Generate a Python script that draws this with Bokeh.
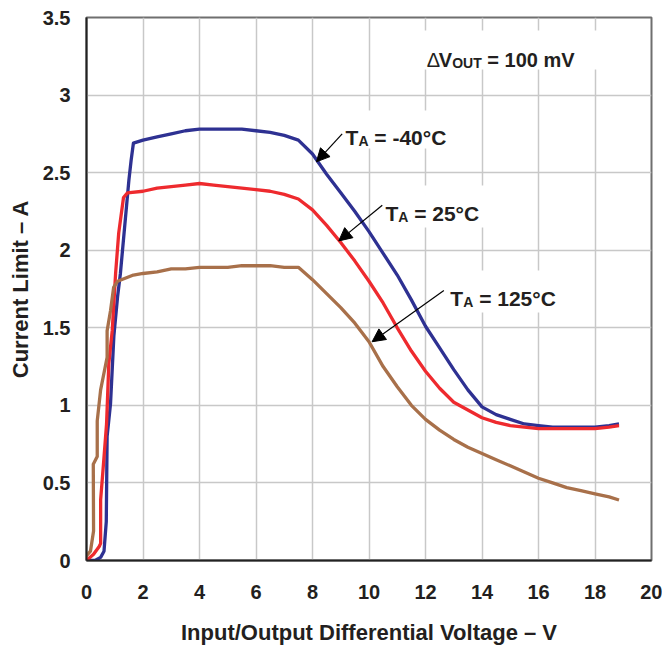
from bokeh.plotting import figure
from bokeh.models import Arrow, NormalHead
from bokeh.core.properties import value
from bokeh.embed import file_html
from bokeh.resources import INLINE

# ---------------- data ----------------
x_ticks = [0, 2, 4, 6, 8, 10, 12, 14, 16, 18, 20]
x_tick_labels = ["0", "2", "4", "6", "8", "10", "12", "14", "16", "18", "20"]
y_ticks = [0, 0.5, 1, 1.5, 2, 2.5, 3, 3.5]
y_tick_labels = ["0", "0.5", "1", "1.5", "2", "2.5", "3", "3.5"]

x_title = "Input/Output Differential Voltage \u2013 V"
y_title = "Current Limit \u2013 A"

vdiff_m40 = [0.0, 0.3, 0.5, 0.62, 0.70, 0.73, 0.85, 0.97, 1.10, 1.20, 1.38, 1.50, 1.58, 1.66,
             2.0, 2.5, 3.0, 3.5, 4.0, 4.5, 5.0, 5.5, 6.0, 6.5, 7.0, 7.5, 8.0, 8.5, 9.0, 9.5,
             10.0, 10.5, 11.0, 11.5, 12.0, 12.5, 13.0, 13.5, 14.0, 14.5, 15.0, 15.5, 16.0,
             16.5, 17.0, 17.5, 18.0, 18.5, 18.85]
ilim_m40 = [0.00, 0.00, 0.02, 0.06, 0.25, 0.80, 1.01, 1.45, 1.70, 1.85, 2.21, 2.45, 2.58, 2.69,
            2.71, 2.73, 2.75, 2.77, 2.78, 2.78, 2.78, 2.78, 2.77, 2.76, 2.74, 2.71, 2.62, 2.49,
            2.37, 2.25, 2.12, 1.98, 1.84, 1.68, 1.51, 1.37, 1.23, 1.10, 0.99, 0.94, 0.91, 0.88,
            0.87, 0.86, 0.86, 0.86, 0.86, 0.87, 0.88]

vdiff_25 = [0.0, 0.25, 0.45, 0.50, 0.50, 0.60, 0.71, 0.79, 0.91, 1.03, 1.14, 1.31, 1.45,
            2.0, 2.5, 3.0, 3.5, 4.0, 4.5, 5.0, 5.5, 6.0, 6.5, 7.0, 7.5, 8.0, 8.5, 9.0, 9.5,
            10.0, 10.5, 11.0, 11.5, 12.0, 12.5, 13.0, 13.5, 14.0, 14.5, 15.0, 15.5, 16.0,
            16.5, 17.0, 17.5, 18.0, 18.5, 18.85]
ilim_25 = [0.00, 0.04, 0.09, 0.11, 0.39, 0.62, 0.88, 1.27, 1.48, 1.85, 2.11, 2.34, 2.37,
           2.38, 2.40, 2.41, 2.42, 2.43, 2.42, 2.41, 2.40, 2.39, 2.38, 2.36, 2.33, 2.26, 2.16,
           2.05, 1.93, 1.80, 1.66, 1.50, 1.35, 1.22, 1.11, 1.02, 0.97, 0.92, 0.89, 0.87, 0.86,
           0.85, 0.85, 0.85, 0.85, 0.85, 0.86, 0.87]

vdiff_125 = [-0.05, 0.14, 0.25, 0.24, 0.38, 0.38, 0.50, 0.73, 0.73, 0.85, 0.96, 1.10, 1.66,
             2.0, 2.5, 3.0, 3.5, 4.0, 5.0, 5.5, 6.0, 6.5, 7.0, 7.5, 8.0, 8.5, 9.0, 9.5,
             10.0, 10.5, 11.0, 11.5, 12.0, 12.5, 13.0, 13.5, 14.0, 14.5, 15.0, 15.5, 16.0,
             16.5, 17.0, 17.5, 18.0, 18.5, 18.85]
ilim_125 = [0.02, 0.06, 0.19, 0.62, 0.67, 0.90, 1.10, 1.31, 1.48, 1.61, 1.76, 1.80, 1.84,
            1.85, 1.86, 1.88, 1.88, 1.89, 1.89, 1.90, 1.90, 1.90, 1.89, 1.89, 1.81, 1.72,
            1.63, 1.53, 1.41, 1.25, 1.12, 1.00, 0.91, 0.84, 0.78, 0.73, 0.69, 0.65, 0.61,
            0.57, 0.53, 0.50, 0.47, 0.45, 0.43, 0.41, 0.39]

series_colors = ["#2e3192", "#ee2a2e", "#a8704a"]

# annotation text parts: (text, is_subscript, bold)
labels = [
    [("\u0394", False, False), ("V", False, True), ("OUT", True, True), (" = 100 mV", False, True)],
    [("T", False, True), ("A", True, True), (" = -40\u00b0C", False, True)],
    [("T", False, True), ("A", True, True), (" = 25\u00b0C", False, True)],
    [("T", False, True), ("A", True, True), (" = 125\u00b0C", False, True)],
]
label_sizes = [20, 21, 21, 21]
label_x = [12.04, 9.17, 10.58, 12.88]       # left edge (data)
label_y = [3.227, 2.725, 2.235, 1.687]      # baseline (data)
# white boxes behind labels (left, right, bottom, top) in data units
box_l = [11.65, 8.92, 10.34, 12.64]
box_r = [18.19, 13.17, 14.19, 16.85]
box_b = [3.165, 2.656, 2.146, 1.599]
box_t = [3.416, 2.901, 2.417, 1.869]

arrow_x0 = [9.05, 10.47, 12.65]
arrow_y0 = [2.75, 2.29, 1.74]
arrow_x1 = [8.14, 8.93, 10.11]
arrow_y1 = [2.57, 2.06, 1.41]

# ---------------- figure ----------------
FONT = "Liberation Sans"
SUB_SIZE = 14

p = figure(width=662, height=649, x_range=(0, 20), y_range=(0, 3.5),
           output_backend="svg", toolbar_location=None,
           min_border_left=86, min_border_right=11, min_border_top=17, min_border_bottom=89)
p.background_fill_color = "white"
p.border_fill_color = "white"
p.outline_line_color = "#6f6f6f"
p.outline_line_width = 2

p.xaxis.ticker = x_ticks
p.yaxis.ticker = y_ticks
p.xaxis.major_label_overrides = {t: l for t, l in zip(x_ticks, x_tick_labels)}
p.yaxis.major_label_overrides = {t: l for t, l in zip(y_ticks, y_tick_labels)}
p.xaxis.axis_label = x_title
p.yaxis.axis_label = y_title
for ax in (p.xaxis, p.yaxis):
    ax.major_tick_out = 0
    ax.major_tick_in = 0
    ax.minor_tick_out = 0
    ax.minor_tick_in = 0
    ax.axis_line_color = "#222222"
    ax.axis_line_width = 2
    ax.major_label_text_font = FONT
    ax.major_label_text_font_style = "bold"
    ax.major_label_text_font_size = "20px"
    ax.major_label_text_color = "#231f20"
    ax.axis_label_text_font = FONT
    ax.axis_label_text_font_style = "bold"
    ax.axis_label_text_font_size = "22px"
    ax.axis_label_text_color = "#231f20"
p.xaxis.major_label_standoff = 24
p.xaxis.axis_label_standoff = 18
p.yaxis.major_label_standoff = 16
p.yaxis.axis_label_standoff = 7

p.grid.grid_line_color = "#c8c8c8"
p.grid.grid_line_width = 1.5

# white boxes behind the labels (interrupt grid)
p.quad(left=box_l, right=box_r, bottom=box_b, top=box_t,
       fill_color="white", line_color=None)

# curves
for xs, ys, c in [(vdiff_m40, ilim_m40, series_colors[0]),
                  (vdiff_25, ilim_25, series_colors[1]),
                  (vdiff_125, ilim_125, series_colors[2])]:
    p.line(xs, ys, line_color=c, line_width=3.3, line_join="round")

# approx glyph widths (Arial/Liberation Sans metrics, per 1000 em)
W_BOLD = {"T": 611, "A": 722, " ": 278, "=": 584, "-": 333, "\u00b0": 400, "C": 722,
          "V": 667, "O": 778, "U": 722, "m": 889, "\u0394": 612}


def text_width(s, size):
    w = 0
    for ch in s:
        w += 556 if ch.isdigit() else W_BOLD.get(ch, 556)
    return w * size / 1000.0


for parts, lx, ly, msize in zip(labels, label_x, label_y, label_sizes):
    off = 0.0
    for txt, sub, bold in parts:
        size = SUB_SIZE if sub else msize
        # leading spaces collapse in svg text: advance offset instead
        stripped = txt.lstrip(" ")
        off += text_width(txt[:len(txt) - len(stripped)], size)
        p.text(x=[lx], y=[ly], text=[stripped], x_offset=off, y_offset=(3 if sub else 0),
               text_font=value(FONT), text_font_style=("bold" if bold else "normal"),
               text_font_size=f"{size}px", text_color="#231f20",
               text_align="left", text_baseline="alphabetic")
        off += text_width(stripped, size)

for x0, y0, x1, y1 in zip(arrow_x0, arrow_y0, arrow_x1, arrow_y1):
    p.add_layout(Arrow(x_start=x0, y_start=y0, x_end=x1, y_end=y1,
                       line_color="black", line_width=1.2,
                       end=NormalHead(size=13, fill_color="black", line_color="black")))

open("out.html", "w").write(file_html(p, INLINE))
